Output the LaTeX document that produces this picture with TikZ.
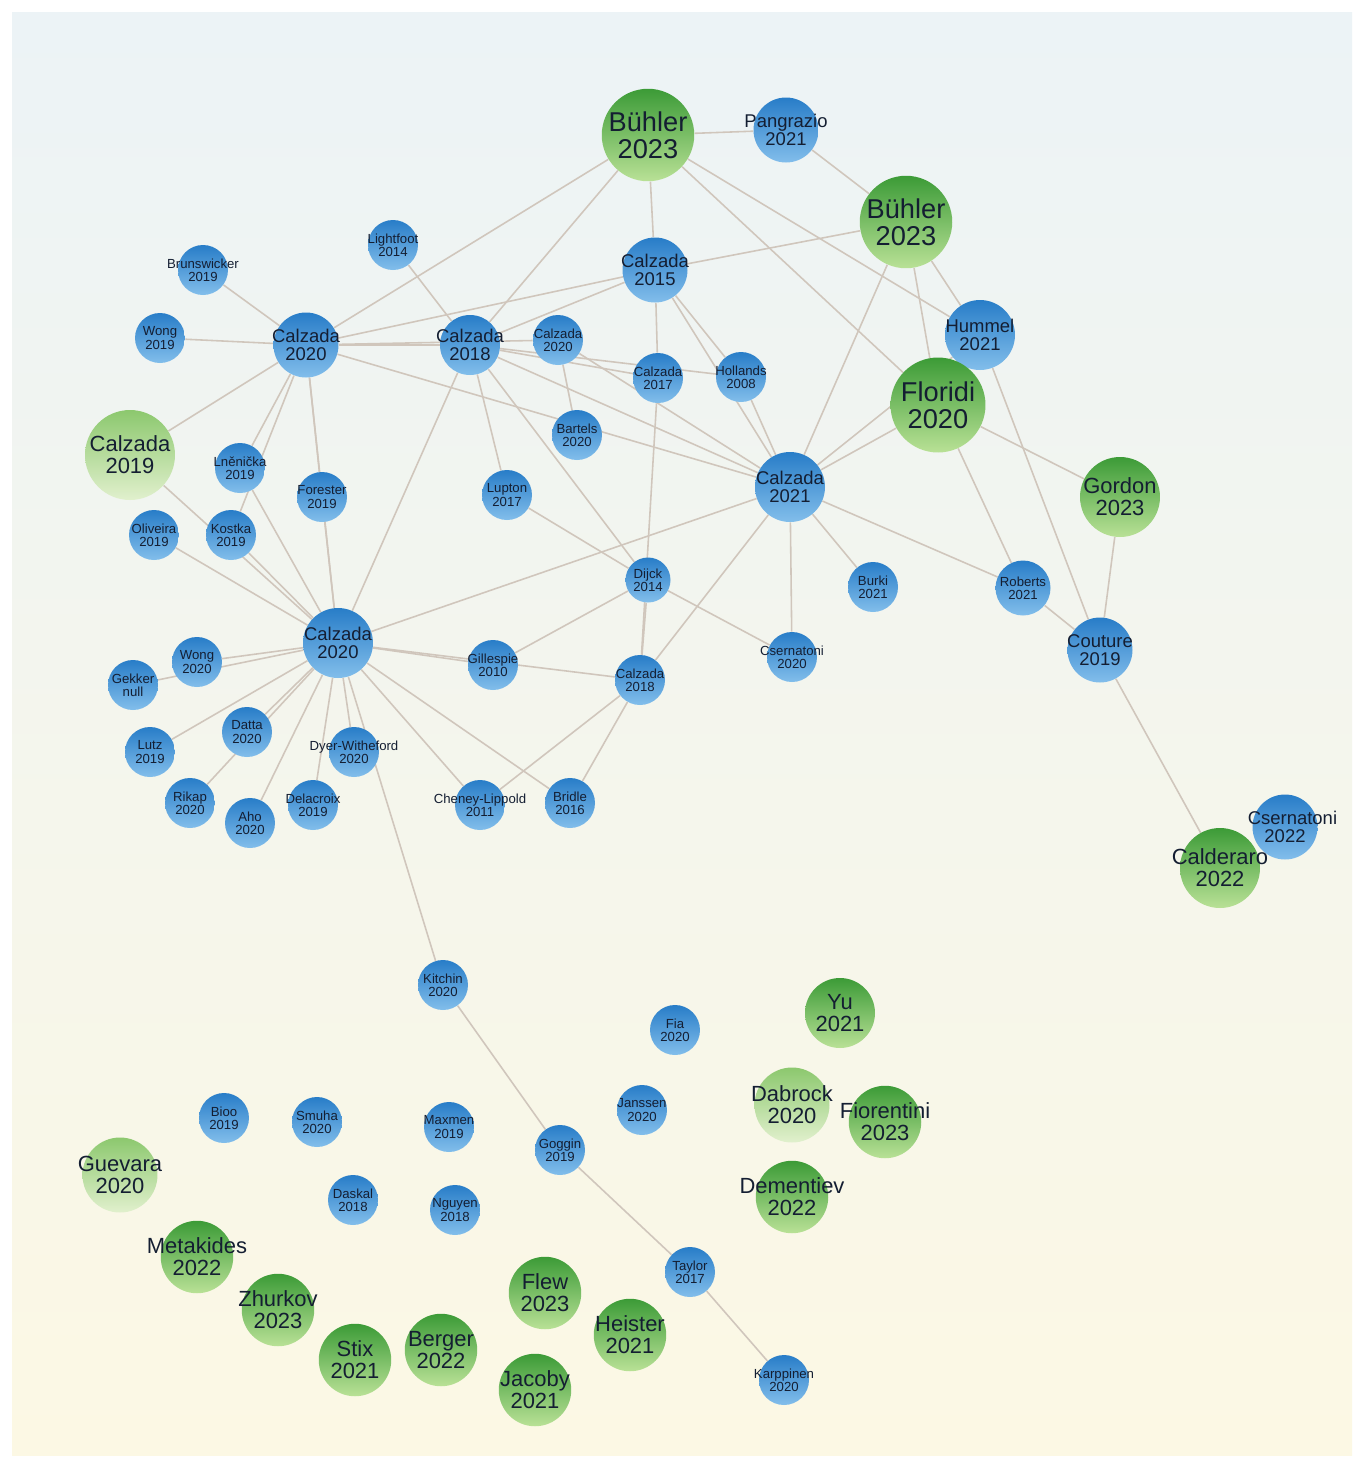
\documentclass[tikz,border=0pt]{standalone}
\usepackage{fontspec}
\setmainfont{Liberation Sans}
\usetikzlibrary{backgrounds}
\definecolor{bt}{RGB}{40,125,200}
\definecolor{bb}{RGB}{130,190,235}
\definecolor{gt}{RGB}{60,155,55}
\definecolor{gb}{RGB}{185,225,150}
\definecolor{lgt}{RGB}{140,200,110}
\definecolor{lgb}{RGB}{225,240,205}
\definecolor{edge}{RGB}{208,198,188}
\definecolor{txt}{RGB}{20,30,50}
\tikzset{
 nd/.style={circle,inner sep=0pt,minimum size=#1},
 lab/.style 2 args={label={[align=center,text=txt,inner sep=0pt,font=\fontsize{#1}{#1}\selectfont]center:#2}},
 sb/.style={nd=1cm,top color=bt,bottom color=bb,lab={7.5}{#1}},
 mb/.style={nd=1.3cm,top color=bt,bottom color=bb,lab={10.5}{#1}},
 gn/.style={nd=1.45cm,top color=gt,bottom color=gb,lab={12.5}{#1}},
 lg/.style={nd=1.5cm,top color=lgt,bottom color=lgb,lab={12.5}{#1}},
 bg/.style={nd=1.85cm,top color=gt,bottom color=gb,lab={15.5}{#1}},
 ed/.style={draw=edge,line width=0.9pt},
}
\begin{document}
\begin{tikzpicture}[x=0.02cm,y=-0.02cm]
\useasboundingbox (0,0) rectangle (1363,1468);
\node[bg={Bühler\\2023}] (buhlerA) at (648,135) {};
\node[mb={Pangrazio\\2021}] (pangrazio) at (786,130) {};
\node[bg={Bühler\\2023}] (buhlerB) at (906,222) {};
\node[mb={Calzada\\2015}] (c2015) at (655,270) {};
\node[sb={Lightfoot\\2014}] (lightfoot) at (393,245) {};
\node[sb={Brunswicker\\2019}] (brunswicker) at (203,270) {};
\node[sb={Wong\\2019}] (wong19) at (160,338) {};
\node[mb={Calzada\\2020}] (c2020a) at (306,345) {};
\node[mb={Calzada\\2018},nd=1.2cm] (c2018a) at (470,345) {};
\node[sb={Calzada\\2020}] (c2020b) at (558,340) {};
\node[sb={Calzada\\2017}] (c2017) at (658,378) {};
\node[sb={Hollands\\2008}] (hollands) at (741,377) {};
\node[mb={Hummel\\2021},nd=1.4cm] (hummel) at (980,335) {};
\node[bg={Floridi\\2020},nd=1.9cm] (floridi) at (938,405) {};
\node[lg={Calzada\\2019},nd=1.8cm] (c2019) at (130,455) {};
\node[sb={Lněnička\\2019}] (lnenicka) at (240,468) {};
\node[sb={Forester\\2019}] (forester) at (322,497) {};
\node[sb={Bartels\\2020}] (bartels) at (577,435) {};
\node[sb={Lupton\\2017}] (lupton) at (507,495) {};
\node[mb={Calzada\\2021},nd=1.4cm] (c2021) at (790,487) {};
\node[gn={Gordon\\2023},nd=1.6cm] (gordon) at (1120,497) {};
\node[sb={Oliveira\\2019}] (oliveira) at (154,535) {};
\node[sb={Kostka\\2019}] (kostka) at (231,535) {};
\node[sb={Dijck\\2014},nd=0.9cm] (dijck) at (648,580) {};
\node[sb={Burki\\2021}] (burki) at (873,587) {};
\node[sb={Roberts\\2021},nd=1.1cm] (roberts) at (1023,588) {};
\node[mb={Calzada\\2020},nd=1.4cm] (c2020c) at (338,643) {};
\node[mb={Couture\\2019}] (couture) at (1100,650) {};
\node[sb={Wong\\2020}] (wong20) at (197,662) {};
\node[sb={Gekker\\null}] (gekker) at (133,685) {};
\node[sb={Gillespie\\2010}] (gillespie) at (493,665) {};
\node[sb={Calzada\\2018}] (c2018b) at (640,680) {};
\node[sb={Csernatoni\\2020}] (cser20) at (792,657) {};
\node[sb={Datta\\2020}] (datta) at (247,732) {};
\node[sb={Dyer-Witheford\\2020}] (dyer) at (354,752) {};
\node[sb={Lutz\\2019}] (lutz) at (150,752) {};
\node[sb={Rikap\\2020}] (rikap) at (190,803) {};
\node[sb={Aho\\2020}] (aho) at (250,823) {};
\node[sb={Delacroix\\2019}] (delacroix) at (313,805) {};
\node[sb={Cheney-Lippold\\2011}] (cheney) at (480,805) {};
\node[sb={Bridle\\2016}] (bridle) at (570,803) {};
\node[mb={\hspace*{3mm}Csernatoni\\2022}] (cser22) at (1285,827) {};
\node[gn={Calderaro\\2022},nd=1.6cm] (calderaro) at (1220,868) {};
\node[sb={Kitchin\\2020}] (kitchin) at (443,985) {};
\node[gn={Yu\\2021},nd=1.4cm] (yu) at (840,1013) {};
\node[sb={Fia\\2020}] (fia) at (675,1030) {};
\node[lg={Dabrock\\2020}] (dabrock) at (792,1105) {};
\node[gn={Fiorentini\\2023}] (fiorentini) at (885,1122) {};
\node[sb={Bioo\\2019}] (bioo) at (224,1118) {};
\node[sb={Smuha\\2020}] (smuha) at (317,1122) {};
\node[sb={Maxmen\\2019}] (maxmen) at (449,1127) {};
\node[sb={Janssen\\2020}] (janssen) at (642,1110) {};
\node[sb={Goggin\\2019}] (goggin) at (560,1150) {};
\node[lg={Guevara\\2020}] (guevara) at (120,1175) {};
\node[gn={Dementiev\\2022}] (dementiev) at (792,1197) {};
\node[sb={Daskal\\2018}] (daskal) at (353,1200) {};
\node[sb={Nguyen\\2018}] (nguyen) at (455,1210) {};
\node[gn={Metakides\\2022}] (metakides) at (197,1257) {};
\node[gn={Flew\\2023}] (flew) at (545,1293) {};
\node[sb={Taylor\\2017}] (taylor) at (690,1272) {};
\node[gn={Zhurkov\\2023}] (zhurkov) at (278,1310) {};
\node[gn={Heister\\2021}] (heister) at (630,1335) {};
\node[gn={Stix\\2021}] (stix) at (355,1360) {};
\node[gn={Berger\\2022}] (berger) at (441,1350) {};
\node[gn={Jacoby\\2021}] (jacoby) at (535,1390) {};
\node[sb={Karppinen\\2020}] (karppinen) at (784,1380) {};
\begin{pgfonlayer}{background}
\fill[white] (0,0) rectangle (1363,1468);
\shade[top color={rgb,255:red,236;green,243;blue,246},bottom color={rgb,255:red,252;green,248;blue,228}] (12,12) rectangle (1352,1455);
\foreach \a/\b in {buhlerA/pangrazio,buhlerA/c2015,buhlerA/c2020a,buhlerA/c2018a,buhlerA/hummel,buhlerA/floridi,
 pangrazio/buhlerB,buhlerB/c2015,buhlerB/floridi,buhlerB/hummel,buhlerB/c2021,
 c2015/c2020a,c2015/c2018a,c2015/c2017,c2015/hollands,c2015/c2021,
 lightfoot/c2018a,brunswicker/c2020a,wong19/c2020a,c2020a/c2018a,c2020a/c2021,c2020a/c2019,c2020a/lnenicka,
 c2020a/forester,c2020a/c2020c,c2020a/kostka,c2020a/c2020b,
 c2018a/c2017,c2018a/hollands,c2018a/c2021,c2018a/lupton,c2018a/dijck,c2018a/c2020c,
 c2020b/bartels,c2020b/c2021,c2017/c2018b,hollands/c2021,hummel/couture,c2021/hummel,
 floridi/c2021,floridi/gordon,floridi/roberts,c2021/c2020c,c2021/burki,c2021/cser20,c2021/c2018b,c2021/roberts,
 roberts/couture,gordon/couture,couture/calderaro,lupton/dijck,dijck/c2018b,dijck/cser20,dijck/gillespie,
 c2019/c2020c,lnenicka/c2020c,kostka/c2020c,oliveira/c2020c,forester/c2020c,
 c2020c/wong20,c2020c/gekker,c2020c/gillespie,c2020c/c2018b,c2020c/datta,c2020c/lutz,c2020c/rikap,c2020c/aho,
 c2020c/delacroix,c2020c/dyer,c2020c/cheney,c2020c/bridle,c2020c/kitchin,
 c2018b/cheney,c2018b/bridle,kitchin/goggin,goggin/taylor,taylor/karppinen}
 \draw[ed] (\a) -- (\b);
\end{pgfonlayer}
\end{tikzpicture}
\end{document}
